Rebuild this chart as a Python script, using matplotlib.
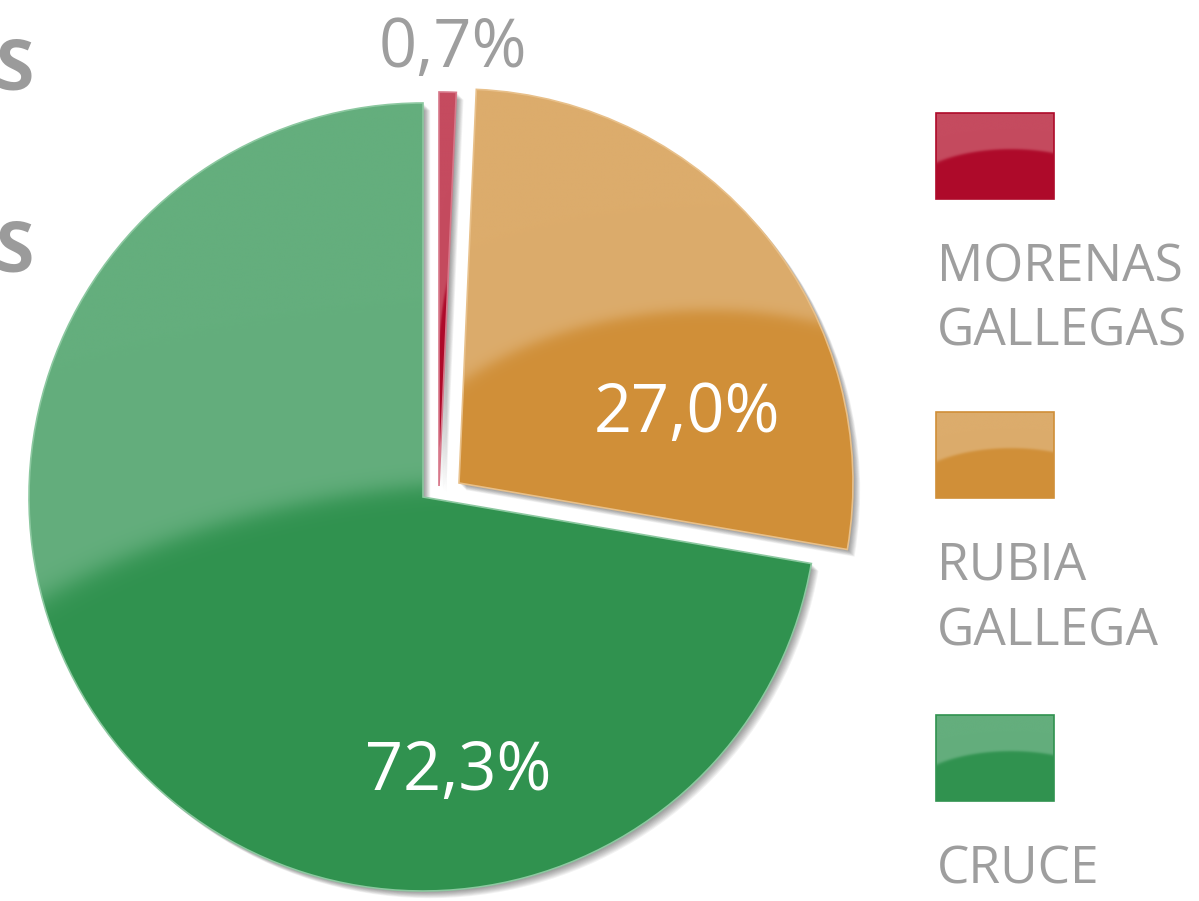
import numpy as np
import matplotlib.pyplot as plt
from matplotlib.patches import Wedge, Rectangle
from matplotlib.colors import to_rgb

# data
breeds = ["MORENAS\nGALLEGAS", "RUBIA\nGALLEGA", "CRUCE"]
shares = [0.7, 27.0, 72.3]
light_colors = ["#C54B5F", "#DCAC6C", "#64AE7D"]
dark_colors = ["#AE0A2A", "#D08F38", "#30924F"]
edge_colors = ["#D7788A", "#E8C08A", "#8CC8A0"]

W, H = 1199, 901
TEXT_GREY = "#9E9E9E"
plt.rcParams['font.family'] = ['Open Sans', 'DejaVu Sans']


def gloss(x0, x1, y0, y1, light, dark, top_frac=0.48, n=300):
    # two-tone "glass" fill: light cap above an elliptic arch, dark below
    xs = np.linspace(x0, x1, n)
    ys = np.linspace(y0, y1, n)
    X, Y = np.meshgrid(xs, ys)
    w, h = x1 - x0, y1 - y0
    xc = x0 + 0.636 * w
    a, b = 0.89 * w, 0.53 * h
    yc = y1 - top_frac * h - b
    e = ((X - xc) / a) ** 2 + ((Y - yc) / b) ** 2
    m = 1 / (1 + np.exp(-(e - 1) / 0.03))
    light, dark = np.array(to_rgb(light)), np.array(to_rgb(dark))
    return dark * (1 - m)[..., None] + light * m[..., None]


fig = plt.figure(figsize=(W / 100, H / 100), dpi=100)
ax = fig.add_axes([0, 0, 1, 1])

wedges, _, pct_texts = ax.pie(
    shares, startangle=90, counterclock=False, radius=394, center=(423, 404),
    autopct=lambda p: f"{p:.1f}%".replace(".", ","), frame=True,
    wedgeprops=dict(lw=0))

# exploded slices (pixel offsets of each slice apex)
slice_centers = [(439, 415), (459, 418), (423, 404)]
for w, c in zip(wedges, slice_centers):
    w.set_center(c)

# soft drop shadows
for w in wedges:
    cx, cy = w.center
    for k in range(1, 10):
        ax.add_patch(Wedge((cx + 0.8 * k, cy - 0.8 * k), w.r, w.theta1, w.theta2,
                           fc="black", alpha=0.05, lw=0, zorder=1))

for w, lc, dc, ec in zip(wedges, light_colors, dark_colors, edge_colors):
    ext = w.get_path().get_extents()
    img = ax.imshow(gloss(ext.x0, ext.x1, ext.y0, ext.y1, lc, dc),
                    extent=(ext.x0, ext.x1, ext.y0, ext.y1), origin="lower",
                    interpolation="bilinear", zorder=2)
    img.set_clip_path(w)
    w.set_facecolor("none")
    w.set_edgecolor(ec)
    w.set_linewidth(1.2)
    w.set_zorder(3)

# percentage labels
pct_pos = [(453, H - 67), (687, H - 432), (458, H - 790)]
pct_colors = [TEXT_GREY, "white", "white"]
for t, p, c in zip(pct_texts, pct_pos, pct_colors):
    t.set_position(p)
    t.set_color(c)
    t.set_fontsize(48)
    t.set_ha("center")
    t.set_va("baseline")
    t.set_zorder(5)

# legend: swatch with label lines underneath
legend_tops = [113, 412, 715]
for label, lc, dc, top in zip(breeds, light_colors, dark_colors, legend_tops):
    x0, x1 = 936, 1054
    y0, y1 = H - top - 86, H - top
    ax.imshow(gloss(x0, x1, y0, y1, lc, dc, top_frac=0.42),
              extent=(x0, x1, y0, y1), origin="lower", interpolation="bilinear", zorder=2)
    ax.add_patch(Rectangle((x0, y0), x1 - x0, y1 - y0, fc="none", ec=dc, lw=1.2, zorder=3))
    for i, line in enumerate(label.split("\n")):
        ax.text(937, y0 - 82 - 65 * i, line, fontsize=37, color=TEXT_GREY,
                ha="left", va="baseline")

# title remnants, clipped at the left edge as in the source image
for base in [90, 272]:
    ax.text(-4, H - base, "S", fontsize=50, fontweight="bold", color="#9B9B9B",
            ha="left", va="baseline")

ax.set_xlim(0, W)
ax.set_ylim(0, H)
ax.set_aspect("equal")
ax.axis("off")

fig.savefig("out.png", dpi=100)
